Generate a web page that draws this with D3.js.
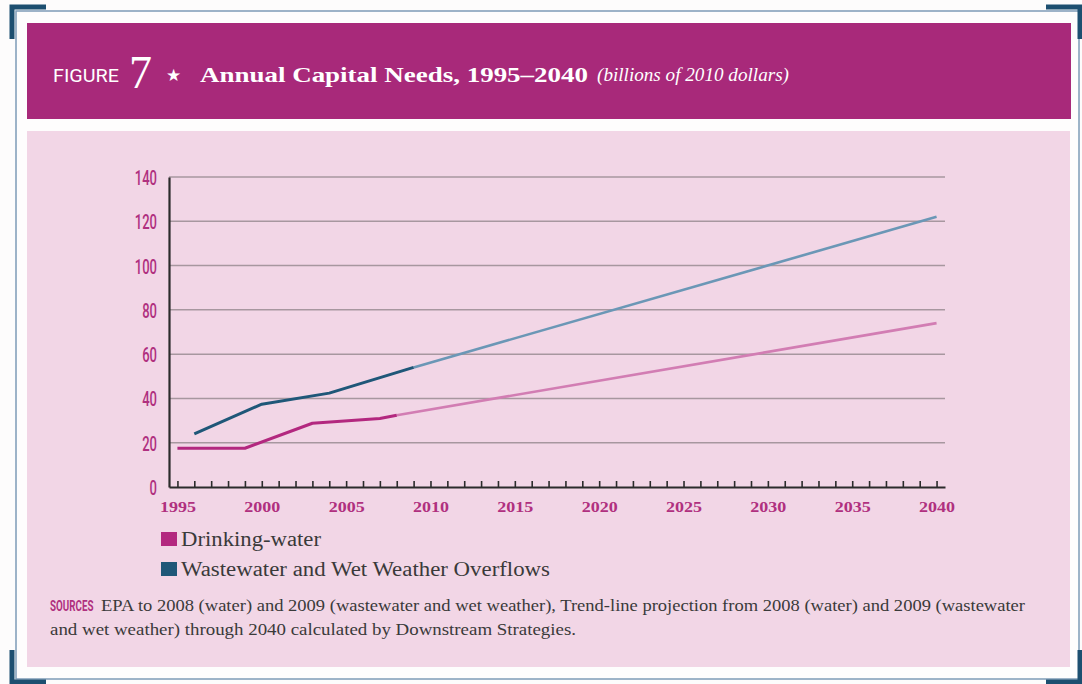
<!DOCTYPE html>
<html>
<head>
<meta charset="utf-8">
<script src="https://cdn.jsdelivr.net/npm/d3@7"></script>
<style>
    body { margin: 0; background: #fdfcfc; }
    svg { display: block; }
</style>
</head>
<body>
<svg width="1082" height="684"></svg>
<script>
    // *** data ***
    const drinkYears = [1995, 1999, 2003, 2007, 2008];
    const drinkValues = [17.5, 17.5, 28.8, 30.9, 32.4];
    const drinkTrendYears = [2008, 2040];
    const drinkTrendValues = [32.4, 74];

    const wasteYears = [1996, 2000, 2004, 2009];
    const wasteValues = [24, 37.4, 42.4, 54];
    const wasteTrendYears = [2009, 2040];
    const wasteTrendValues = [54, 122];

    const yTicks = [0, 20, 40, 60, 80, 100, 120, 140];
    const xTickYears = d3.range(1995, 2041);
    const xLabelYears = [1995, 2000, 2005, 2010, 2015, 2020, 2025, 2030, 2035, 2040];
    const legendLabels = ['Drinking-water', 'Wastewater and Wet Weather Overflows'];

    const zip = (xs, ys) => xs.map((x, i) => ({ year: x, value: ys[i] }));

    const svg = d3.select('svg');
    const magenta = '#a8297a';
    const teal = '#1d4f70';
    const serif = 'Liberation Serif, serif';

    // *** frame ***
    svg.append('rect')
        .attr('x', 16).attr('y', 11).attr('width', 1063).attr('height', 668)
        .attr('fill', '#fefdfd')
        .attr('stroke', '#7e9bb6').attr('stroke-width', 1.5);
    // corner brackets
    const bracket = (x, y, dx, dy) => {
        svg.append('path')
            .attr('d', `M${x},${y + dy * 32} L${x},${y} L${x + dx * 34},${y}`)
            .attr('fill', 'none')
            .attr('stroke', teal)
            .attr('stroke-width', 5);
    };
    bracket(12, 7, 1, 1);
    bracket(1080, 7, -1, 1);
    bracket(12, 682, 1, -1);
    bracket(1080, 682, -1, -1);

    // *** header band ***
    svg.append('rect')
        .attr('x', 27).attr('y', 23).attr('width', 1044).attr('height', 96)
        .attr('fill', magenta);
    const head = svg.append('g').attr('fill', '#fff');
    head.append('text')
        .attr('x', 53).attr('y', 82)
        .attr('font-family', 'Roboto, sans-serif')
        .attr('font-size', 18)
        .attr('textLength', 66).attr('lengthAdjust', 'spacingAndGlyphs')
        .text('FIGURE');
    head.append('text')
        .attr('x', 129).attr('y', 88)
        .attr('font-family', serif)
        .attr('font-size', 46)
        .text('7');
    head.append('text')
        .attr('x', 166).attr('y', 81)
        .attr('font-family', 'DejaVu Sans, sans-serif')
        .attr('font-size', 17)
        .text('★');
    head.append('text')
        .attr('x', 200).attr('y', 82)
        .attr('font-family', serif)
        .attr('font-weight', 'bold')
        .attr('font-size', 21)
        .attr('textLength', 388).attr('lengthAdjust', 'spacingAndGlyphs')
        .text('Annual Capital Needs, 1995–2040');
    head.append('text')
        .attr('x', 597).attr('y', 81)
        .attr('font-family', serif)
        .attr('font-style', 'italic')
        .attr('font-size', 18)
        .attr('textLength', 192).attr('lengthAdjust', 'spacingAndGlyphs')
        .text('(billions of 2010 dollars)');

    // *** chart panel ***
    svg.append('rect')
        .attr('x', 27).attr('y', 131).attr('width', 1043).attr('height', 536)
        .attr('fill', '#f2d6e6');

    const x = d3.scaleLinear().domain([1994.5, 2040.5]).range([169, 945]);
    const y = d3.scaleLinear().domain([0, 140]).range([487, 177]);

    // grid
    svg.append('g')
        .selectAll('line')
        .data(yTicks.filter(d => d > 0))
        .enter()
        .append('line')
        .attr('x1', x(1994.5)).attr('x2', x(2040.5))
        .attr('y1', d => y(d)).attr('y2', d => y(d))
        .attr('stroke', '#a7979f')
        .attr('stroke-width', 1.5);

    // y axis
    const sx = 0.62;
    const yAxis = svg.append('g')
        .attr('transform', `translate(${x(1994.5)},0)`)
        .call(d3.axisLeft(y).tickValues(yTicks).tickSize(0));
    yAxis.select('.domain')
        .attr('stroke', '#2b2b2b').attr('stroke-width', 2.2);
    yAxis.selectAll('text')
        .attr('x', -12 / sx)
        .attr('transform', `scale(${sx},1)`)
        .attr('font-family', 'Roboto, sans-serif')
        .attr('font-weight', 500)
        .attr('font-size', 21)
        .attr('dy', '0.36em')
        .attr('fill', '#b0307f');

    // x axis
    const xAxis = svg.append('g')
        .attr('transform', `translate(0,${y(0)})`)
        .call(d3.axisBottom(x)
            .tickValues(xTickYears)
            .tickSize(-6)
            .tickSizeOuter(0)
            .tickFormat(d => xLabelYears.includes(d) ? d : ''));
    xAxis.select('.domain')
        .attr('stroke', '#2b2b2b').attr('stroke-width', 2.2);
    xAxis.selectAll('.tick line')
        .attr('stroke', '#2b2b2b').attr('stroke-width', 1.6);
    xAxis.selectAll('text')
        .filter(d => xLabelYears.includes(d))
        .attr('y', 25)
        .attr('dy', 0)
        .attr('font-family', serif)
        .attr('font-weight', 'bold')
        .attr('font-size', 15)
        .attr('textLength', 36).attr('lengthAdjust', 'spacingAndGlyphs')
        .attr('fill', '#b0307f');

    // *** lines ***
    const line = d3.line()
        .x(d => x(d.year))
        .y(d => y(d.value));
    const series = [
        { data: zip(drinkTrendYears, drinkTrendValues), color: '#d27db3', width: 2.6 },
        { data: zip(wasteTrendYears, wasteTrendValues), color: '#6b97b6', width: 2.6 },
        { data: zip(drinkYears, drinkValues), color: '#b3287f', width: 3 },
        { data: zip(wasteYears, wasteValues), color: '#1f5778', width: 3 },
    ];
    svg.append('g')
        .selectAll('path')
        .data(series)
        .enter()
        .append('path')
        .attr('d', d => line(d.data))
        .attr('fill', 'none')
        .attr('stroke', d => d.color)
        .attr('stroke-width', d => d.width)
        .attr('stroke-linejoin', 'round');

    // *** legend ***
    const legendColors = ['#b3287f', '#1f5778'];
    const legendWidths = [140, 369];
    const legend = svg.append('g')
        .selectAll('g')
        .data(legendLabels)
        .enter()
        .append('g')
        .attr('transform', (d, i) => `translate(161,${532 + i * 30})`);
    legend.append('rect')
        .attr('width', 16).attr('height', 14)
        .attr('fill', (d, i) => legendColors[i]);
    legend.append('text')
        .attr('x', 20).attr('y', 13.5)
        .attr('font-family', serif)
        .attr('font-size', 20)
        .attr('textLength', (d, i) => legendWidths[i]).attr('lengthAdjust', 'spacingAndGlyphs')
        .attr('fill', '#3a3a3a')
        .text(d => d);

    // *** sources ***
    const srcScale = 0.7;
    svg.append('text')
        .attr('x', 50 / srcScale).attr('y', 611)
        .attr('transform', `scale(${srcScale},1)`)
        .attr('font-family', 'Roboto, sans-serif')
        .attr('font-weight', 'bold')
        .attr('font-size', 14)
        .attr('fill', '#b0307f')
        .text('SOURCES');
    svg.append('text')
        .attr('x', 101).attr('y', 611)
        .attr('font-family', serif)
        .attr('font-size', 16)
        .attr('textLength', 924).attr('lengthAdjust', 'spacingAndGlyphs')
        .attr('fill', '#3a3a3a')
        .text('EPA to 2008 (water) and 2009 (wastewater and wet weather), Trend-line projection from 2008 (water) and 2009 (wastewater');
    svg.append('text')
        .attr('x', 50).attr('y', 635)
        .attr('font-family', serif)
        .attr('font-size', 16)
        .attr('textLength', 526).attr('lengthAdjust', 'spacingAndGlyphs')
        .attr('fill', '#3a3a3a')
        .text('and wet weather) through 2040 calculated by Downstream Strategies.');
</script>
</body>
</html>
